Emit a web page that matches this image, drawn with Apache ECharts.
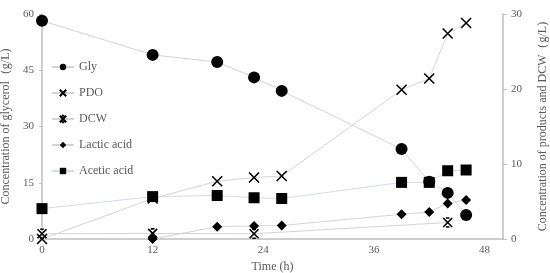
<!DOCTYPE html>
<html>
<head>
<meta charset="utf-8">
<script src="https://cdn.jsdelivr.net/npm/echarts@6/dist/echarts.min.js"></script>
<style>
  html, body { margin: 0; padding: 0; background: #fff; }
  #chart { width: 550px; height: 273px; }
</style>
</head>
<body>
<div id="chart"></div>
<script>
// time points (h)
var glyTime = [0, 12, 19, 23, 26, 39, 42, 44, 46];
var gly = [58.2, 49.1, 47.2, 43.1, 39.5, 24.0, 15.3, 12.3, 6.4];

var pdoTime = [0, 12, 19, 23, 26, 39, 42, 44, 46];
var pdo = [0, 5.4, 7.7, 8.2, 8.4, 19.9, 21.4, 27.4, 28.8];

var dcwTime = [0, 12, 23, 44];
var dcw = [0.7, 0.75, 0.7, 2.2];

var lacticTime = [12, 19, 23, 26, 39, 42, 44, 46];
var lactic = [0, 1.65, 1.75, 1.8, 3.3, 3.6, 4.75, 5.2];

var aceticTime = [0, 12, 19, 23, 26, 39, 42, 44, 46];
var acetic = [4.05, 5.65, 5.8, 5.5, 5.4, 7.55, 7.55, 9.1, 9.2];

function pairs(t, v) {
    return t.map(function (x, i) { return [x, v[i]]; });
}

var font = 'Liberation Serif';
var textColor = '#595959';
var axisColor = '#bfbfbf';

var crossPath = 'path://M0,0L10,10M10,0L0,10';
var starPath = 'path://M0,0L10,10M10,0L0,10M3,0L7,0M3,10L7,10';

function mkSeries(name, data, yIdx, symbol, size, lineColor, stroke) {
    return {
        name: name,
        type: 'line',
        yAxisIndex: yIdx,
        data: data,
        symbol: symbol,
        symbolSize: size,
        showAllSymbol: true,
        lineStyle: { color: lineColor, width: 1 },
        itemStyle: stroke
            ? { color: '#000', borderColor: '#000', borderWidth: 1.6 }
            : { color: '#000' },
        z: 3
    };
}

var chart = echarts.init(document.getElementById('chart'), null, { renderer: 'canvas' });

chart.setOption({
    animation: false,
    backgroundColor: '#fff',
    grid: { left: 42, right: 47, top: 14, bottom: 34, outerBoundsMode: 'none', containLabel: false },
    legend: {
        orient: 'vertical',
        left: 51,
        top: 61,
        padding: 0,
        itemGap: 14,
        itemWidth: 22,
        itemHeight: 8,
        textStyle: { fontFamily: font, fontSize: 12, color: textColor },
        data: ['Gly', 'PDO', 'DCW', 'Lactic acid', 'Acetic acid']
    },
    xAxis: {
        type: 'value',
        min: 0,
        max: 50,
        interval: 12,
        name: 'Time (h)',
        nameLocation: 'middle',
        nameGap: 20,
        nameTextStyle: { fontFamily: font, fontSize: 12, color: textColor },
        axisLine: { lineStyle: { color: axisColor, width: 1.5 } },
        axisTick: { show: false },
        splitLine: { show: false },
        axisLabel: { fontFamily: font, fontSize: 11, color: textColor, showMaxLabel: false, margin: 6 }
    },
    yAxis: [{
        type: 'value',
        min: 0,
        max: 60,
        interval: 15,
        name: 'Concentration of glycerol（g/L)',
        nameLocation: 'middle',
        nameGap: 26,
        nameTextStyle: { fontFamily: font, fontSize: 12, color: textColor },
        axisLine: { show: true, lineStyle: { color: axisColor, width: 1.5 } },
        axisTick: { show: true, length: 3, lineStyle: { color: axisColor } },
        splitLine: { show: false },
        axisLabel: { fontFamily: font, fontSize: 11, color: textColor, margin: 8 }
    }, {
        type: 'value',
        min: 0,
        max: 30,
        interval: 10,
        position: 'right',
        name: 'Concentration of products and DCW（g/L)',
        nameLocation: 'middle',
        nameGap: 34,
        nameRotate: 90,
        nameTextStyle: { fontFamily: font, fontSize: 12, color: textColor },
        axisLine: { show: true, lineStyle: { color: axisColor, width: 1.5 } },
        axisTick: { show: true, length: 4, lineStyle: { color: axisColor } },
        splitLine: { show: false },
        axisLabel: { fontFamily: font, fontSize: 11, color: textColor, margin: 8 }
    }],
    series: [
        mkSeries('Gly', pairs(glyTime, gly), 0, 'circle', 12, '#d4d4d4', false),
        mkSeries('PDO', pairs(pdoTime, pdo), 1, crossPath, 10, '#d4d4d4', true),
        mkSeries('DCW', pairs(dcwTime, dcw), 1, starPath, 9, '#d4d4d4', true),
        mkSeries('Lactic acid', pairs(lacticTime, lactic), 1, 'diamond', 10, '#d4d4d4', false),
        mkSeries('Acetic acid', pairs(aceticTime, acetic), 1, 'rect', 11, '#d3dbe6', false)
    ]
});
</script>
</body>
</html>
